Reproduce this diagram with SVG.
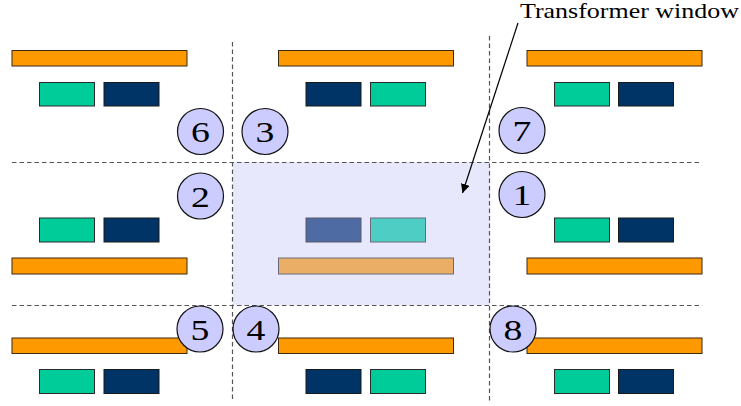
<svg xmlns="http://www.w3.org/2000/svg" width="741" height="406" viewBox="0 0 741 406">
<defs>
<style>
.bg{fill:#ffffff}
.win{fill:#E8E8FC;stroke:none}
.dash{stroke:#555;stroke-width:1.2;stroke-dasharray:4.5,3;fill:none}
.or{fill:#FF9900;stroke:#3a2a10;stroke-width:1}
.te{fill:#00CC99;stroke:#2a2a2a;stroke-width:1}
.nv{fill:#003366;stroke:#1a1a1a;stroke-width:1}
.orf{fill:#EAAE66;stroke:#6a6a7a;stroke-width:1}
.tef{fill:#4ECDC4;stroke:#6a6a7a;stroke-width:1}
.nvf{fill:#4F6BA3;stroke:#5a5a6a;stroke-width:1}
.cir{fill:#CCCCFF;stroke:#111;stroke-width:1.2}
.arr{stroke:#000;stroke-width:1.2;fill:none}
</style>
<marker id="ah" viewBox="0 0 10 10" refX="10" refY="5" markerWidth="9" markerHeight="9" markerUnits="userSpaceOnUse" orient="auto">
<path d="M0,0 L10,5 L0,10 z" fill="#000"/>
</marker>
</defs>
<rect class="bg" x="0" y="0" width="741" height="406"/>
<g id="window">
<rect class="win" x="233" y="162" width="257" height="143"/>
</g>
<g id="grid">
<line class="dash" x1="232.5" y1="42" x2="232.5" y2="402"/>
<line class="dash" x1="489.5" y1="36" x2="489.5" y2="402"/>
<line class="dash" x1="12" y1="162.5" x2="702" y2="162.5"/>
<line class="dash" x1="12" y1="305.5" x2="702" y2="305.5"/>
</g>
<g id="cell-top-left">
<rect class="or" x="12" y="50.5" width="175" height="15.5"/>
<rect class="te" x="39.5" y="82.5" width="55" height="23.5"/>
<rect class="nv" x="104" y="82.5" width="55" height="23.5"/>
</g>
<g id="cell-top-mid">
<rect class="or" x="278.5" y="50.5" width="175" height="15.5"/>
<rect class="nv" x="306" y="82.5" width="55" height="23.5"/>
<rect class="te" x="370.5" y="82.5" width="55" height="23.5"/>
</g>
<g id="cell-top-right">
<rect class="or" x="527" y="50.5" width="175" height="15.5"/>
<rect class="te" x="554.5" y="82.5" width="55" height="23.5"/>
<rect class="nv" x="618.5" y="82.5" width="55" height="23.5"/>
</g>
<g id="cell-mid-left">
<rect class="te" x="39.5" y="218" width="55" height="24"/>
<rect class="nv" x="104" y="218" width="55" height="24"/>
<rect class="or" x="12" y="258" width="175" height="16"/>
</g>
<g id="cell-mid-center">
<rect class="nvf" x="306" y="218" width="55" height="24"/>
<rect class="tef" x="370.5" y="218" width="55" height="24"/>
<rect class="orf" x="278.5" y="258" width="175" height="16"/>
</g>
<g id="cell-mid-right">
<rect class="te" x="554.5" y="218" width="55" height="24"/>
<rect class="nv" x="618.5" y="218" width="55" height="24"/>
<rect class="or" x="527" y="258" width="175" height="16"/>
</g>
<g id="cell-bot-left">
<rect class="or" x="12" y="338" width="175" height="15.5"/>
<rect class="te" x="39.5" y="369.5" width="55" height="24"/>
<rect class="nv" x="104" y="369.5" width="55" height="24"/>
</g>
<g id="cell-bot-mid">
<rect class="or" x="278.5" y="338" width="175" height="15.5"/>
<rect class="nv" x="306" y="369.5" width="55" height="24"/>
<rect class="te" x="370.5" y="369.5" width="55" height="24"/>
</g>
<g id="cell-bot-right">
<rect class="or" x="527" y="338" width="175" height="15.5"/>
<rect class="te" x="554.5" y="369.5" width="55" height="24"/>
<rect class="nv" x="618.5" y="369.5" width="55" height="24"/>
</g>
<g id="nodes" font-family="Liberation Serif, Times New Roman, serif" font-size="29" text-anchor="middle" fill="#000">
<g id="n6"><circle class="cir" cx="200.5" cy="131.5" r="23"/><text transform="translate(200.5,142) scale(1.3,1)">6</text></g>
<g id="n3"><circle class="cir" cx="265" cy="131.5" r="23"/><text transform="translate(265,142) scale(1.3,1)">3</text></g>
<g id="n7"><circle class="cir" cx="522" cy="130.5" r="23"/><text transform="translate(522,141) scale(1.3,1)">7</text></g>
<g id="n2"><circle class="cir" cx="200.5" cy="196" r="23"/><text transform="translate(200.5,206.5) scale(1.3,1)">2</text></g>
<g id="n1"><circle class="cir" cx="522" cy="194.5" r="23"/><text transform="translate(522,205) scale(1.3,1)">1</text></g>
<g id="n5"><circle class="cir" cx="200" cy="329" r="23"/><text transform="translate(200,339.5) scale(1.3,1)">5</text></g>
<g id="n4"><circle class="cir" cx="256" cy="329" r="23"/><text transform="translate(256,339.5) scale(1.3,1)">4</text></g>
<g id="n8"><circle class="cir" cx="513" cy="329" r="23"/><text transform="translate(513,339.5) scale(1.3,1)">8</text></g>
</g>
<g id="label"><text x="520" y="17.5" font-family="Liberation Serif, Times New Roman, serif" font-size="21" fill="#000" textLength="219" lengthAdjust="spacingAndGlyphs">Transformer window</text></g>
<g id="connectors">
<line class="arr" x1="518" y1="23" x2="462.5" y2="193" marker-end="url(#ah)"/>
</g>
</svg>
